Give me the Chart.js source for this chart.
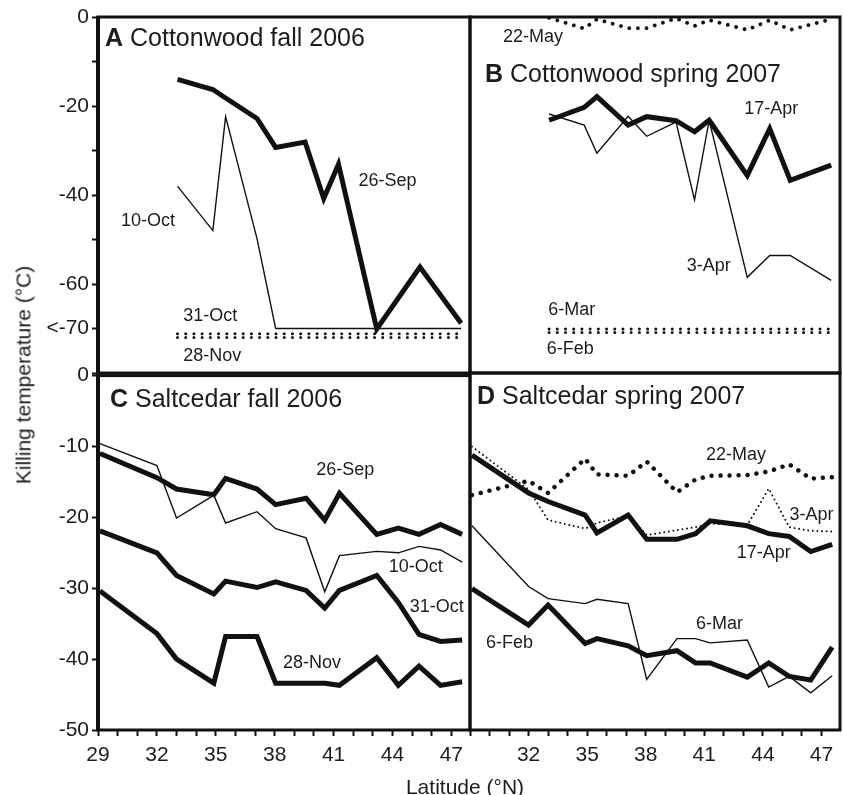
<!DOCTYPE html>
<html>
<head>
<meta charset="utf-8">
<script src="https://cdn.jsdelivr.net/npm/chart.js@4.4.1/dist/chart.umd.min.js"></script>
<style>
  body { margin: 0; background: #fff; }
  #wrap { position: relative; width: 843px; height: 795px; overflow: hidden;
          font-family: "Liberation Sans", Arial, Helvetica, sans-serif; color: #1c1c1c; }
  canvas { position: absolute; }
  .ttl { position: absolute; white-space: nowrap; font-size: 21px; line-height: 1; }
  #ytitle { left: 23px; top: 375px; transform: translate(-50%, -50%) rotate(-90deg); }
  #xtitle { left: 465px; top: 786px; transform: translate(-50%, -50%); }
</style>
</head>
<body>
<div id="wrap">
  <canvas id="pa" width="480" height="395" style="left:0;top:0"></canvas>
  <canvas id="pb" width="381" height="380" style="left:462px;top:0"></canvas>
  <canvas id="pc" width="480" height="435" style="left:0;top:360px"></canvas>
  <canvas id="pd" width="381" height="435" style="left:462px;top:360px"></canvas>
  <div class="ttl" id="ytitle">Killing temperature (°C)</div>
  <div class="ttl" id="xtitle">Latitude (°N)</div>
</div>
<script>
// --- data ---
// cottonwood collection sites, latitude °N
const cwLat = [33.05, 34.85, 35.5, 37.1, 38.05, 39.55, 40.5, 41.25, 43.2, 44.35, 45.4, 47.5];
// A: cottonwood fall 2006
const cwSep26 = [-14.0, -16.3, -18.2, -22.8, -29.3, -28.1, -40.8, -33.1, -70.1, null, -56.2, -68.8];
const cwOct10 = [-38.0, -48.0, -22.4, -49.8, -70, -70, -70, -70, -70, -70, -70, -70];
const cwOct31 = [-71.2, -71.2, -71.2, -71.2, -71.2, -71.2, -71.2, -71.2, -71.2, -71.2, -71.2, -71.2];
const cwNov28 = [-72.0, -72.0, -72.0, -72.0, -72.0, -72.0, -72.0, -72.0, -72.0, -72.0, -72.0, -72.0];
// B: cottonwood spring 2007
const cwFeb6 = [-70.9, -70.9, -70.9, -70.9, -70.9, -70.9, -70.9, -70.9, -70.9, -70.9, -70.9, -70.9];
const cwMar6 = [-70.1, -70.1, -70.1, -70.1, -70.1, -70.1, -70.1, -70.1, -70.1, -70.1, -70.1, -70.1];
const cwApr3 = [-21.8, -24.3, -30.6, -22.3, -26.8, -23.6, -41.1, -23.2, -58.5, -53.6, -53.6, -59.2];
const cwApr17 = [-23.2, -20.3, -17.9, -24.3, -22.4, -23.3, -25.8, -23.2, -35.6, -25.1, -36.7, -33.3];
const cwMay22 = [-0.2, -2.6, -0.5, -2.5, -2.5, -0.3, -2.0, -0.7, -2.9, -0.7, -2.9, -0.5];

// saltcedar collection sites, latitude °N
const scLat = [29.1, 32.0, 33.0, 34.9, 35.5, 37.1, 38.05, 39.6, 40.55, 41.3, 43.2, 44.3, 45.35, 46.45, 47.55];
// C: saltcedar fall 2006
const scSep26 = [-11.0, -14.4, -16.0, -16.8, -14.5, -16.0, -18.2, -17.3, -20.4, -16.6, -22.4, -21.5, -22.4, -21.0, -22.4];
const scOct10 = [-9.6, -12.7, -20.1, -16.9, -20.8, -19.2, -21.6, -22.9, -30.5, -25.4, -24.8, -25.0, -24.1, -24.6, -26.3];
const scOct31 = [-21.9, -25.0, -28.2, -30.8, -29.0, -29.9, -29.1, -30.3, -32.8, -30.3, -28.2, -32.0, -36.5, -37.5, -37.3];
const scNov28 = [-30.4, -36.4, -40.0, -43.4, -36.8, -36.8, -43.4, -43.4, -43.4, -43.7, -39.8, -43.7, -41.0, -43.7, -43.2];
// D: saltcedar spring 2007
const scFeb6 = [-30.2, -35.3, -32.5, -37.9, -37.2, -38.2, -39.6, -38.9, -40.6, -40.6, -42.6, -40.6, -42.5, -43.0, -38.4];
const scMar6 = [-21.4, -29.9, -31.6, -32.3, -31.7, -32.3, -42.9, -37.2, -37.2, -37.8, -37.4, -44.0, -42.5, -44.8, -42.4];
const scApr3 = [-10.3, -16.3, -20.6, -21.8, -21.0, -20.0, -22.7, -22.0, -21.6, -21.1, -21.3, -16.2, -21.6, -22.1, -22.2];
const scApr17 = [-11.5, -16.8, -18.0, -19.9, -22.4, -19.9, -23.3, -23.3, -22.5, -20.7, -21.4, -22.5, -22.9, -25.0, -24.0];
const scMay22 = [-17.1, -15.1, -16.8, -12.0, -14.2, -14.4, -12.4, -16.7, -14.9, -14.4, -14.3, -13.8, -12.8, -14.8, -14.6];

// axes
const xTicks = [29, 30, 31, 32, 33, 34, 35, 36, 37, 38, 39, 40, 41, 42, 43, 44, 45, 46, 47];
const xLabelsLeft = [29, 32, 35, 38, 41, 44, 47];
const xLabelsRight = [32, 35, 38, 41, 44, 47];
const yTicksTop = [0, -10, -20, -30, -40, -50, -60, -70, -80];
const yLabelsTop = ['0', '', '-20', '', '-40', '', '-60', '<-70', ''];
const yTicksBottom = [0, -10, -20, -30, -40, -50];
const yLabelsBottom = ['0', '-10', '-20', '-30', '-40', '-50'];

// --- styling ---
const FONT = '"Liberation Sans", Arial, Helvetica, sans-serif';
const INK = '#111';
const TXT = '#1c1c1c';
const thick = { borderWidth: 5, borderJoinStyle: 'miter' };
const thin = { borderWidth: 1.4 };
const bigDots = { borderWidth: 4.5, borderDash: [0.01, 9], borderCapStyle: 'round' };
const midDots = { borderWidth: 3.8, borderDash: [0.01, 8.6], borderCapStyle: 'round' };
const floorDots = { borderWidth: 3, borderDash: [0.01, 8.2], borderCapStyle: 'round' };
const fineDots = { borderWidth: 2, borderDash: [0.01, 4.6], borderCapStyle: 'round' };

function series(lat, vals, style) {
  return Object.assign({
    data: lat.map((x, i) => ({ x: x, y: vals[i] })),
    borderColor: INK, pointRadius: 0, spanGaps: true, fill: false, tension: 0
  }, style);
}

function xScale(show, labels) {
  const sc = {
    type: 'linear', min: 29, max: 47.95, display: show,
    afterBuildTicks: s => { s.ticks = xTicks.map(v => ({ value: v })); },
    grid: { drawOnChartArea: false, tickLength: 6, tickWidth: 2, tickColor: INK },
    border: { display: false },
    ticks: { autoSkip: false, maxRotation: 0, padding: 7, color: TXT,
      font: { family: FONT, size: 21 },
      callback: v => labels.includes(v) ? String(v) : '' }
  };
  if (show) sc.afterFit = s => { s.height = 65; };
  return sc;
}

function yScale(show, ticks, labels) {
  const sc = {
    type: 'linear', min: ticks[ticks.length - 1], max: 0, display: show,
    afterBuildTicks: s => { s.ticks = ticks.map(v => ({ value: v })); },
    grid: { drawOnChartArea: false, tickLength: 6, tickWidth: 2, tickColor: INK },
    border: { display: false },
    ticks: { autoSkip: false, padding: 3, color: TXT,
      font: { family: FONT, size: 21 },
      callback: v => { const i = ticks.indexOf(v); return i < 0 ? '' : labels[i]; } }
  };
  if (show) sc.afterFit = s => { s.width = 98; };
  return sc;
}

// panel letter + title, date labels and the frame
const panelDeco = {
  id: 'panelDeco',
  afterDraw(chart, args, opts) {
    const { ctx, chartArea: a, scales } = chart;
    ctx.save();
    ctx.fillStyle = TXT;
    ctx.textAlign = 'left';
    ctx.textBaseline = 'middle';
    ctx.font = '18px ' + FONT;
    for (const [t, x, y] of opts.notes) {
      ctx.fillText(t, scales.x.getPixelForValue(x), scales.y.getPixelForValue(y));
    }
    const tx = a.left + opts.dx, ty = a.top + opts.dy;
    ctx.font = 'bold 25px ' + FONT;
    ctx.fillText(opts.letter, tx, ty);
    const w = ctx.measureText(opts.letter).width;
    ctx.font = '25px ' + FONT;
    ctx.fillText(' ' + opts.title, tx + w, ty);
    ctx.strokeStyle = INK;
    ctx.lineWidth = 3;
    ctx.strokeRect(a.left, a.top, a.right - a.left, a.bottom - a.top);
    if (opts.leftAxis) {
      ctx.lineWidth = 4;
      ctx.beginPath();
      ctx.moveTo(a.left, a.top - 1);
      ctx.lineTo(a.left, a.bottom + 1);
      ctx.stroke();
    }
    ctx.restore();
  }
};

function panel(id, datasets, scales, padding, deco) {
  return new Chart(document.getElementById(id), {
    type: 'line',
    data: { datasets: datasets },
    options: {
      responsive: false, animation: false, devicePixelRatio: 1,
      layout: { padding: padding },
      scales: scales,
      plugins: { legend: { display: false }, tooltip: { enabled: false }, panelDeco: deco }
    },
    plugins: [panelDeco]
  });
}

panel('pa', [
  series(cwLat, cwOct10, thin),
  series(cwLat, cwSep26, thick),
  series(cwLat, cwOct31, floorDots),
  series(cwLat, cwNov28, floorDots)
], { x: xScale(false, xLabelsLeft), y: yScale(true, yTicksTop, yLabelsTop) },
{ top: 17, right: 10, bottom: 22, left: 0 },
{ letter: 'A', title: 'Cottonwood fall 2006', dx: 7, dy: 22, leftAxis: true,
  notes: [['10-Oct', 30.17, -45.9], ['26-Sep', 42.27, -36.9], ['31-Oct', 33.34, -67.3], ['28-Nov', 33.34, -76.1]] });

panel('pb', [
  series(cwLat, cwApr3, thin),
  series(cwLat, cwApr17, thick),
  series(cwLat, cwMar6, floorDots),
  series(cwLat, cwFeb6, floorDots),
  series(cwLat, cwMay22, midDots)
], { x: xScale(false, xLabelsRight), y: yScale(false, yTicksTop, yLabelsTop) },
{ top: 17, right: 3, bottom: 7, left: 8 },
{ letter: 'B', title: 'Cottonwood spring 2007', dx: 15, dy: 58, leftAxis: false,
  notes: [['22-May', 30.69, -4.6], ['17-Apr', 43.04, -20.6], ['3-Apr', 40.1, -55.9], ['6-Mar', 33.01, -65.8], ['6-Feb', 32.93, -74.6]] });

panel('pc', [
  series(scLat, scOct10, thin),
  series(scLat, scSep26, thick),
  series(scLat, scOct31, thick),
  series(scLat, scNov28, thick)
], { x: xScale(true, xLabelsLeft), y: yScale(true, yTicksBottom, yLabelsBottom) },
{ top: 13, right: 10, bottom: 0, left: 0 },
{ letter: 'C', title: 'Saltcedar fall 2006', dx: 12, dy: 25, leftAxis: true,
  notes: [['26-Sep', 40.12, -13.35], ['10-Oct', 43.81, -27.0], ['31-Oct', 44.88, -32.6], ['28-Nov', 38.42, -40.6]] });

panel('pd', [
  series(scLat, scMar6, thin),
  series(scLat, scFeb6, thick),
  series(scLat, scApr3, fineDots),
  series(scLat, scApr17, thick),
  series(scLat, scMay22, bigDots)
], { x: xScale(true, xLabelsRight), y: yScale(false, yTicksBottom, yLabelsBottom) },
{ top: 13, right: 3, bottom: 0, left: 8 },
{ letter: 'D', title: 'Saltcedar spring 2007', dx: 7, dy: 24, leftAxis: false,
  notes: [['22-May', 41.09, -11.5], ['3-Apr', 45.36, -19.9], ['17-Apr', 42.66, -25.25], ['6-Mar', 40.58, -35.15], ['6-Feb', 29.82, -37.8]] });
</script>
</body>
</html>
